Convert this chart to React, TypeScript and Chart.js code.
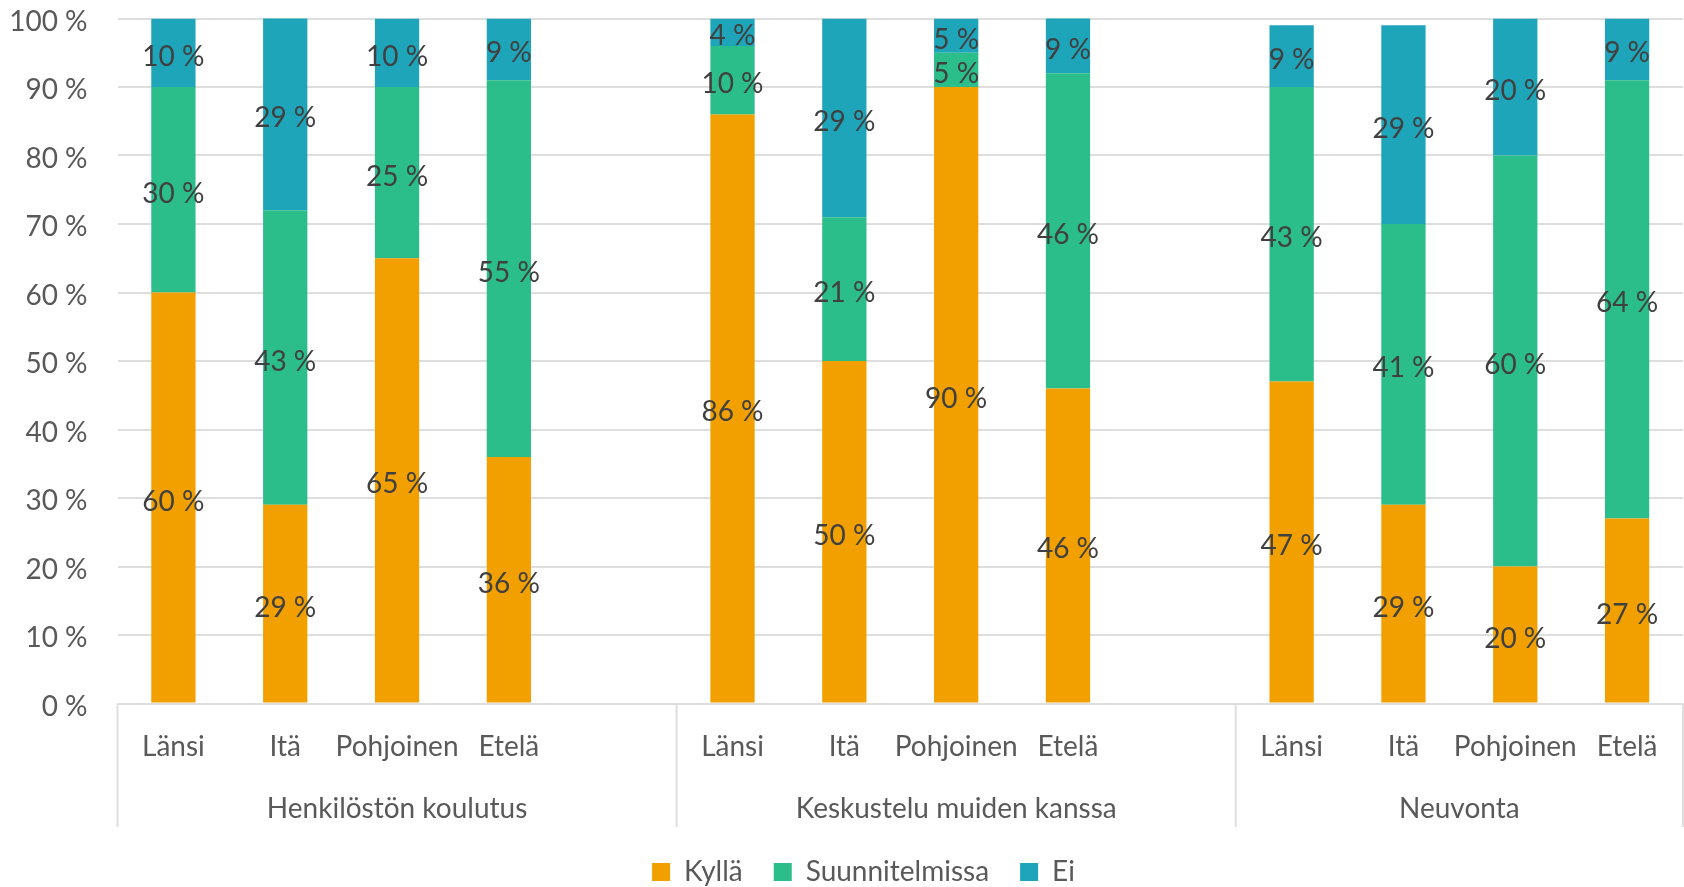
import React, { useEffect, useRef } from 'react';
import { Chart, registerables } from 'chart.js';

Chart.register(...registerables);

// ---- data ----
const categories = [
  'Länsi', 'Itä', 'Pohjoinen', 'Etelä', '',
  'Länsi', 'Itä', 'Pohjoinen', 'Etelä', '',
  'Länsi', 'Itä', 'Pohjoinen', 'Etelä',
];
const groupNames = ['Henkilöstön koulutus', 'Keskustelu muiden kanssa', 'Neuvonta'];
const kylla = [60, 29, 65, 36, null, 86, 50, 90, 46, null, 47, 29, 20, 27];
const suunnitelmissa = [30, 43, 25, 55, null, 10, 21, 5, 46, null, 43, 41, 60, 64];
const ei = [10, 29, 10, 9, null, 4, 29, 5, 9, null, 9, 29, 20, 9];
const seriesNames = ['Kyllä', 'Suunnitelmissa', 'Ei'];
const seriesColors = ['#F29F00', '#2BBD8A', '#1FA5BA'];

// ---- styles ----
const FONT = 'Lato';
const FONT_SIZE = 28;
const AXIS_COLOR = '#595959';
const LABEL_COLOR = '#404040';
const GRID_COLOR = '#dedede';

const valueLabels = {
  id: 'valueLabels',
  afterDatasetsDraw(chart: any) {
    const { ctx, chartArea } = chart;
    ctx.save();
    ctx.font = `${FONT_SIZE}px ${FONT}`;
    ctx.fillStyle = LABEL_COLOR;
    ctx.textAlign = 'center';
    ctx.textBaseline = 'middle';
    chart.data.datasets.forEach((ds: any, i: number) => {
      const meta = chart.getDatasetMeta(i);
      meta.data.forEach((bar: any, j: number) => {
        const v = ds.data[j];
        if (v === null || v === undefined) return;
        const p = bar.getProps(['x', 'y', 'base'], true);
        const top = Math.max(Math.min(p.y, p.base), chartArea.top);
        const bottom = Math.min(Math.max(p.y, p.base), chartArea.bottom);
        ctx.fillText(`${v} %`, p.x, (top + bottom) / 2 + 4);
      });
    });
    ctx.restore();
  },
};

const groupAxis = {
  id: 'groupAxis',
  afterDraw(chart: any) {
    const { ctx } = chart;
    const x = chart.scales.x;
    const half = (x.getPixelForValue(1) - x.getPixelForValue(0)) / 2;
    // group spans: a blank category closes a group
    const spans: [number, number][] = [];
    let start = 0;
    categories.forEach((c, i) => {
      if (c === '' || i === categories.length - 1) {
        spans.push([start, i]);
        start = i + 1;
      }
    });
    ctx.save();
    ctx.strokeStyle = GRID_COLOR;
    ctx.lineWidth = 2;
    const edges: number[] = [];
    spans.forEach(([s, e], k) => {
      if (k === 0) edges.push(x.getPixelForValue(s) - half);
      edges.push(x.getPixelForValue(e) + half);
    });
    edges.forEach((px) => {
      const xx = Math.min(Math.max(px, 1), chart.width - 1);
      ctx.beginPath();
      ctx.moveTo(xx, x.top);
      ctx.lineTo(xx, x.bottom);
      ctx.stroke();
    });
    ctx.font = `${FONT_SIZE}px ${FONT}`;
    ctx.fillStyle = AXIS_COLOR;
    ctx.textAlign = 'center';
    ctx.textBaseline = 'middle';
    spans.forEach(([s, e], k) => {
      const l = x.getPixelForValue(s) - half;
      const r = x.getPixelForValue(e) + half;
      ctx.fillText(groupNames[k], (l + r) / 2, x.top + 105.5);
    });
    ctx.restore();
  },
};

const legendShift = {
  id: 'legendShift',
  afterLayout(chart: any) {
    const l = chart.legend;
    if (l) {
      l.left += 22;
      l.right += 22;
    }
  },
};

export default function App() {
  const ref = useRef<HTMLCanvasElement>(null);
  useEffect(() => {
    if (!ref.current) return;
    const series = [kylla, suunnitelmissa, ei];
    const chart = new Chart(ref.current, {
      type: 'bar',
      data: {
        labels: categories,
        datasets: series.map((d, i) => ({
          label: seriesNames[i],
          data: d,
          backgroundColor: seriesColors[i],
          borderWidth: 0,
          barPercentage: 1,
          categoryPercentage: 0.396,
        })),
      },
      options: {
        responsive: false,
        animation: false,
        layout: { padding: { top: 18.5, left: 0, right: 1, bottom: -9 } },
        plugins: {
          legend: {
            position: 'bottom',
            labels: {
              boxWidth: 18,
              boxHeight: 18,
              padding: 31,
              color: AXIS_COLOR,
              font: { family: FONT, size: FONT_SIZE },
            },
          },
          tooltip: { enabled: false },
        },
        scales: {
          x: {
            stacked: true,
            grid: { display: false, drawTicks: false },
            border: { display: false },
            ticks: {
              autoSkip: false,
              maxRotation: 0,
              padding: 27,
              color: AXIS_COLOR,
              font: { family: FONT, size: FONT_SIZE },
            },
            afterFit: (s: any) => {
              s.height = 123.5;
              s.paddingLeft = 0;
              s.paddingRight = 0;
            },
          },
          y: {
            stacked: true,
            min: 0,
            max: 100,
            ticks: {
              stepSize: 10,
              padding: 30,
              labelOffset: 3,
              color: AXIS_COLOR,
              font: { family: FONT, size: FONT_SIZE },
              callback: (v: any) => `${v} %`,
            },
            grid: { color: GRID_COLOR, lineWidth: 2, drawTicks: false },
            border: { display: false },
            afterFit: (s: any) => {
              s.width = 117.5;
              s.paddingTop = 0;
              s.paddingBottom = 0;
            },
          },
        },
      },
      plugins: [valueLabels, groupAxis, legendShift],
    } as any);
    return () => chart.destroy();
  }, []);
  return (
    <div style={{ position: 'absolute', left: 0, top: 0, width: 1684, height: 887 }}>
      <canvas ref={ref} width={1684} height={887} />
    </div>
  );
}
